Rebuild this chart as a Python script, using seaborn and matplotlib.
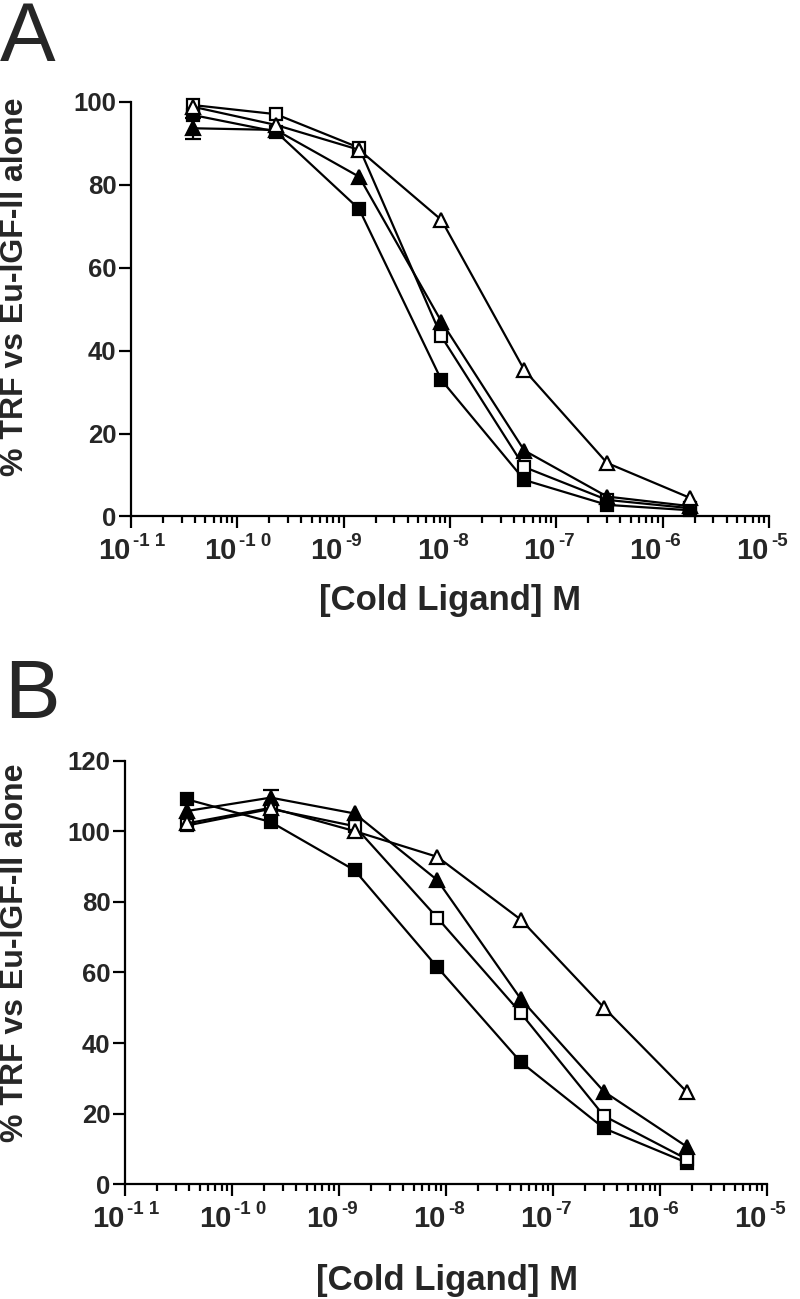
import numpy as np
import pandas as pd
import matplotlib
matplotlib.use("Agg")
import matplotlib.pyplot as plt
import seaborn as sns
from matplotlib.ticker import LogLocator, NullFormatter, FixedLocator

# ---------------- data ----------------
conc = [3.8e-11, 2.3e-10, 1.4e-9, 8.3e-9, 5.0e-8, 3.0e-7, 1.8e-6]

a_filled_sq = [96.8, 92.8, 74.1, 32.9, 8.8, 2.8, 1.5]
a_open_sq = [99.2, 97.0, 88.9, 43.4, 11.9, 4.0, 2.0]
a_filled_tri = [93.6, 93.2, 81.9, 47.0, 15.9, 4.8, 2.5]
a_open_tri = [98.8, 94.4, 88.4, 71.5, 35.3, 12.9, 4.5]
a_filled_tri_err = [2.5, 0, 0, 0, 0, 0, 0]

b_filled_sq = [109.1, 102.7, 89.0, 61.5, 34.6, 15.8, 6.0]
b_open_sq = [101.7, 106.4, 101.5, 75.5, 48.5, 19.3, 7.0]
b_filled_tri = [105.8, 109.6, 105.1, 86.2, 52.5, 26.2, 10.5]
b_open_tri = [102.3, 106.7, 100.1, 92.8, 75.0, 50.0, 26.0]
b_filled_tri_err = [0, 2.2, 0, 0, 0, 0, 0]

x_ticks = [1e-11, 1e-10, 1e-9, 1e-8, 1e-7, 1e-6, 1e-5]
x_tick_base = ["10", "10", "10", "10", "10", "10", "10"]
x_tick_exp = ["-1 1", "-1 0", "-9", "-8", "-7", "-6", "-5"]
a_yticks = [0, 20, 40, 60, 80, 100]
b_yticks = [0, 20, 40, 60, 80, 100, 120]
ylabel = "% TRF vs Eu-IGF-II alone"
xlabel = "[Cold Ligand] M"

# ---------------- style ----------------
sns.set_style("ticks")
plt.rcParams["font.family"] = ["Liberation Sans", "DejaVu Sans"]

fig = plt.figure(figsize=(8.0, 12.99), dpi=100)
fig.patch.set_facecolor("white")

styles = [
    ("s", "black", 9.0),   # filled square
    ("s", "white", 9.0),   # open square
    ("^", "black", 10.5),  # filled triangle
    ("^", "white", 10.5),  # open triangle
]


def draw_panel(ax, series, err, yticks, ymax):
    for (marker, face, ms), vals in zip(styles, series):
        df = pd.DataFrame({"conc": conc, "val": vals})
        sns.lineplot(data=df, x="conc", y="val", ax=ax, color="black",
                     linewidth=1.6, marker=marker, markersize=ms,
                     markerfacecolor=face, markeredgecolor="black",
                     markeredgewidth=1.6, legend=False, zorder=3)
    ex = [c for c, e in zip(conc, err) if e > 0]
    ey = [v for v, e in zip(series[2], err) if e > 0]
    ee = [e for e in err if e > 0]
    ax.errorbar(ex, ey, yerr=ee, fmt="none", ecolor="black", elinewidth=1.6,
                capsize=6, capthick=1.6, zorder=2)

    ax.set_xscale("log")
    ax.set_xlim(1e-11, 1e-5)
    ax.set_ylim(0, ymax)
    ax.xaxis.set_major_locator(FixedLocator(x_ticks))
    ax.set_xticklabels(["" for _ in x_ticks])
    ax.xaxis.set_minor_locator(LogLocator(base=10, subs=np.arange(2, 10)))
    ax.xaxis.set_minor_formatter(NullFormatter())
    ax.set_yticks(yticks)
    ax.set_yticklabels([str(t) for t in yticks], fontweight="bold",
                       fontsize=18.5)
    for s in ["top", "right"]:
        ax.spines[s].set_visible(False)
    for s in ["left", "bottom"]:
        ax.spines[s].set_linewidth(1.6)
        ax.spines[s].set_color("black")
    ax.tick_params(axis="both", which="major", direction="out", length=8.5,
                   width=1.6, color="black")
    ax.tick_params(axis="x", which="minor", direction="out", length=5,
                   width=1.6, color="black")
    ax.tick_params(axis="y", which="major", pad=2)
    ax.set_xlabel("")
    ax.set_ylabel("")
    ax.set_facecolor("white")
    for line in ax.get_lines():
        line.set_clip_on(False)
    # x tick labels as base + superscript
    for t, base, ex_ in zip(x_ticks, x_tick_base, x_tick_exp):
        ax.annotate(base, xy=(t, 0), xycoords=("data", "axes fraction"),
                    xytext=(-0.5, -15), textcoords="offset points",
                    ha="right", va="top", fontsize=21, fontweight="bold",
                    annotation_clip=False)
        ax.annotate(ex_, xy=(t, 0), xycoords=("data", "axes fraction"),
                    xytext=(1.5, -12.0), textcoords="offset points",
                    ha="left", va="top", fontsize=13.5, fontweight="bold",
                    annotation_clip=False)


axA = fig.add_axes([0.16375, 0.6024, 0.7975, 0.3193])
draw_panel(axA, [a_filled_sq, a_open_sq, a_filled_tri, a_open_tri],
           a_filled_tri_err, a_yticks, 100)

axB = fig.add_axes([0.15625, 0.0885, 0.8025, 0.3257])
draw_panel(axB, [b_filled_sq, b_open_sq, b_filled_tri, b_open_tri],
           b_filled_tri_err, b_yticks, 120)

# axis titles
fig.text(15 / 800, 0.779, ylabel, rotation=90, ha="center", va="center",
         fontsize=23, fontweight="bold")
fig.text(15 / 800, 0.2664, ylabel, rotation=90, ha="center", va="center",
         fontsize=23, fontweight="bold")
fig.text(0.5625, 0.538, xlabel, ha="center", va="center", fontsize=25,
         fontweight="bold")
fig.text(0.559, 0.0139, xlabel, ha="center", va="center", fontsize=25,
         fontweight="bold")

# panel letters
fig.text(0.0, 1.0, "A", ha="left", va="top", fontsize=60)
fig.text(0.005, 0.494, "B", ha="left", va="top", fontsize=60)

fig.savefig("out.png", dpi=100, facecolor="white")
